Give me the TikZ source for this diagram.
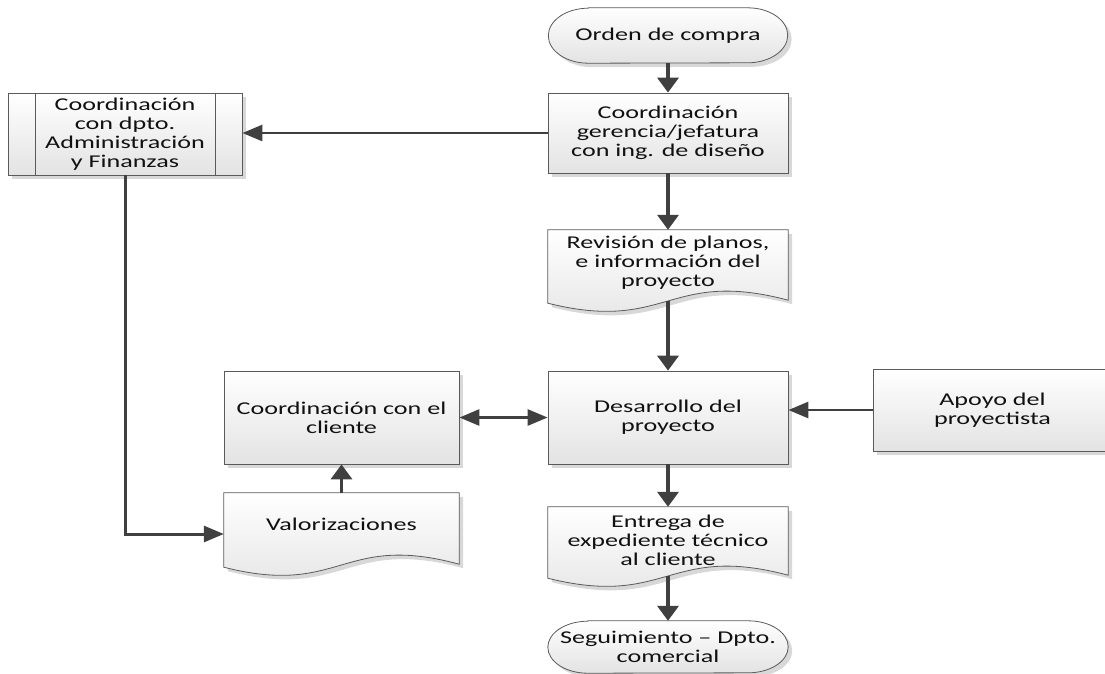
\documentclass[tikz,border=0pt]{standalone}
\usepackage{fontspec}
\setmainfont{Carlito}[FakeStretch=1.45]
\usetikzlibrary{arrows.meta,shadows,calc}
\definecolor{edge}{HTML}{5A5A5A}
\definecolor{fillbot}{HTML}{E3E3E3}
\definecolor{shadowc}{HTML}{D8D8D8}
\definecolor{linec}{HTML}{404040}
\definecolor{txt}{HTML}{111111}
\pgfdeclarelayer{background}
\pgfsetlayers{background,main}
\tikzset{
 lbl/.style={font=\fontsize{18}{19}\selectfont, text=txt, align=center, inner sep=0pt},
 shaded/.style={draw=edge, line width=0.8pt, top color=white, bottom color=fillbot},
 shad/.style={drop shadow={shadow xshift=4pt, shadow yshift=-4pt, fill=shadowc, opacity=1}},
 procbox/.style={lbl, shaded, shad, rectangle},
 termbox/.style={lbl, rectangle},
 docbox/.style={rectangle, inner sep=0pt, draw=none},
 vflow/.style={draw=linec, line width=3.5pt, -{Triangle[length=15pt,width=21pt]}},
 hflow/.style={draw=linec, line width=2.8pt, -{Triangle[length=20pt,width=16pt]}},
 hboth/.style={draw=linec, line width=2.8pt, {Triangle[length=20pt,width=16pt]}-{Triangle[length=20pt,width=16pt]}},
}
\newcommand\docpath[1]{(#1.north west) -- (#1.north east) -- ($(#1.south east)+(0,-3)$) .. controls ($(#1.south)+(0,-35)$) and ($(#1.south)+(0,30)$) .. (#1.south west) -- cycle}
\newcommand\docshape[1]{%
 \fill[shadowc, transform canvas={shift={(4pt,-4pt)}}] \docpath{#1};
 \path[shaded] \docpath{#1};
}
\newcommand\termpath[2]{([xshift=40pt]#1.north west) -- ([xshift=-40pt]#1.north east) arc[start angle=90,end angle=-90,x radius=40pt,y radius=#2] -- ([xshift=40pt]#1.south west) arc[start angle=270,end angle=90,x radius=40pt,y radius=#2] -- cycle}
\newcommand\termshape[2]{%
 \begin{pgfonlayer}{background}
 \fill[shadowc, transform canvas={shift={(4pt,-4pt)}}] \termpath{#1}{#2};
 \path[shaded] \termpath{#1}{#2};
 \end{pgfonlayer}
}
\begin{document}
\begin{tikzpicture}[x=1pt,y=-1pt]
\useasboundingbox (0,0) rectangle (1105,673);
\clip (0,0) rectangle (1105,673);

% terminators
\node[termbox, minimum width=239pt, minimum height=55pt] (ord) at (668,35.5) {Orden de compra};
\termshape{ord}{27.5pt}
\node[termbox, minimum width=240pt, minimum height=52pt] (seg) at (668,647) {Seguimiento – Dpto.\\comercial};
\termshape{seg}{26pt}

% process boxes
\node[procbox, minimum width=240pt, minimum height=80pt] (cg) at (668,133) {Coordinación\\gerencia/jefatura\\con ing. de diseño};
\node[procbox, minimum width=234pt, minimum height=82pt] (cd) at (125,134) {Coordinación\\con dpto.\\Administración\\y Finanzas};
\draw[edge, line width=0.8pt] ([xshift=28pt]cd.north west) -- ([xshift=28pt]cd.south west);
\draw[edge, line width=0.8pt] ([xshift=-27pt]cd.north east) -- ([xshift=-27pt]cd.south east);
\node[procbox, minimum width=235pt, minimum height=93pt] (cc) at (341.5,417.5) {Coordinación con el\\cliente};
\node[procbox, minimum width=240pt, minimum height=93pt] (des) at (668,417.5) {Desarrollo del\\proyecto};
\node[procbox, minimum width=239pt, minimum height=82pt] (ap) at (992.5,410) {Apoyo del\\proyectista};

% documents
\node[docbox, minimum width=240pt, minimum height=73pt] (rev) at (668,266.5) {};
\docshape{rev}
\node[lbl] (revt) at ([yshift=4pt]rev.center) {Revisión de planos,\\e información del\\proyecto};

\node[docbox, minimum width=235pt, minimum height=74pt] (val) at (341.5,530) {};
\docshape{val}
\node[lbl] (valt) at ([yshift=6pt]val.center) {Valorizaciones};

\node[docbox, minimum width=240pt, minimum height=71pt] (ent) at (668,542.5) {};
\docshape{ent}
\node[lbl] (entt) at ([yshift=2pt]ent.center) {Entrega de\\expediente técnico\\al cliente};

% connectors
\draw[vflow] (ord.south) -- (cg.north);
\draw[hflow] (cg.west) -- (cg.west -| cd.east);
\draw[vflow] (cg.south) -- (rev.north);
\draw[vflow] ([yshift=2pt]rev.south) -- (des.north);
\draw[draw=linec, line width=3pt, -{Triangle[length=20pt,width=16pt]}] (cd.south) |- ([yshift=-4pt]val.west);
\draw[vflow] (val.north) -- (cc.south);
\draw[hboth] (cc.east) -- (des.west);
\draw[hflow] (ap.west) -- (ap.west -| des.east);
\draw[vflow] (des.south) -- (ent.north);
\draw[vflow] ([yshift=2pt]ent.south) -- (seg.north);
\end{tikzpicture}
\end{document}
